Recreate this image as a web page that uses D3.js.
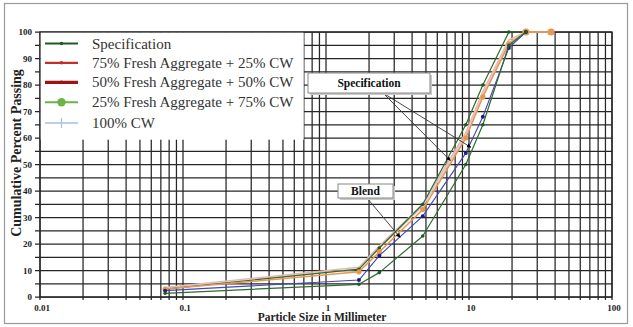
<!DOCTYPE html>
<html>
<head>
<meta charset="utf-8">
<script src="https://cdn.jsdelivr.net/npm/d3@7"></script>
<style>
  html, body { margin: 0; padding: 0; background: #fff; }
  svg { display: block; }
</style>
</head>
<body>
<div id="chart"></div>
<script>
// sieve sizes (mm) and cumulative % passing
const sizes      = [0.075, 1.7, 2.36, 4.75, 9.5, 12.5, 19, 25, 37.5];
const specLower  = [1.4, 4.8, 9.2, 23, 50, 65, 95, 100];
const specUpper  = [3, 10.5, 18.5, 35, 65, 80, 100, 100];
const blendBlue  = [2.4, 6.4, 15.6, 30.5, 54.3, 68, 94, 100];
const blendOrng  = [3, 9.5, 17, 33, 60, 75.5, 95.5, 100, 100];
const blendPink  = [3.6, 11.2, 19.2, 35, 62, 77.5, 97, 100, 100];
const blendGrey  = [3.3, 10.6, 18.4, 34.3, 61, 76.5, 96, 100];

const yTicks  = d3.range(0, 101, 10);
const xLabels = [0.01, 0.1, 1, 10, 100];
const legendLabels = [
  'Specification',
  '75% Fresh Aggregate + 25% CW',
  '50% Fresh Aggregate + 50% CW',
  '25% Fresh Aggregate + 75% CW',
  '100% CW',
];

const W = 633, H = 327, M = { top: 32, right: 21, bottom: 30, left: 40 };
const iW = W - M.left - M.right;
const iH = H - M.top - M.bottom;
const SERIF = '"Liberation Serif", "DejaVu Serif", serif';

const svg = d3.select('#chart').append('svg')
  .attr('width', W).attr('height', H);

// outer frame
svg.append('rect').attr('x', 4.5).attr('y', 3.5).attr('width', 623).attr('height', 320)
  .attr('fill', 'none').attr('stroke', '#9a9a9a').attr('stroke-width', 1.2);

const g = svg.append('g').attr('transform', `translate(${M.left},${M.top})`);

const x = d3.scaleLog().domain([0.01, 100]).range([0, iW]);
const y = d3.scaleLinear().domain([0, 100]).range([iH, 0]);

// ── grid ────────────────────────────────────────────────────────────────
const vTicks = [];
[0.01, 0.1, 1, 10].forEach(d => d3.range(1, 10).forEach(k => vTicks.push(d * k)));
vTicks.push(100);

const gridG = g.append('g').attr('stroke', '#262626').attr('stroke-width', 1.25);
vTicks.forEach(v => {
  gridG.append('line').attr('x1', x(v)).attr('x2', x(v)).attr('y1', 0).attr('y2', iH + 3);
});
d3.range(0, 101, 5).forEach(v => {
  gridG.append('line').attr('x1', -5).attr('x2', iW).attr('y1', y(v)).attr('y2', y(v));
});
g.append('rect').attr('width', iW).attr('height', iH)
  .attr('fill', 'none').attr('stroke', '#262626').attr('stroke-width', 1.3);

// ── axes labels ────────────────────────────────────────────────────────
g.append('g').selectAll('text').data(yTicks).join('text')
  .attr('x', -8).attr('y', d => y(d) + 3)
  .attr('text-anchor', 'end')
  .attr('font-family', SERIF).attr('font-weight', 'bold').attr('font-size', 9)
  .attr('fill', '#222')
  .text(d => d);

g.append('g').selectAll('text').data(xLabels).join('text')
  .attr('x', d => x(d) + 2).attr('y', iH + 14)
  .attr('text-anchor', 'middle')
  .attr('font-family', SERIF).attr('font-weight', 'bold').attr('font-size', 9)
  .attr('fill', '#222')
  .text(d => d);

svg.append('text')
  .attr('transform', `translate(21,153) rotate(-90)`)
  .attr('text-anchor', 'middle')
  .attr('font-family', SERIF).attr('font-weight', 'bold').attr('font-size', 14)
  .attr('fill', '#222')
  .text('Cumulative Percent Passing');

svg.append('text')
  .attr('x', 322).attr('y', 321)
  .attr('text-anchor', 'middle')
  .attr('font-family', SERIF).attr('font-weight', 'bold').attr('font-size', 11.5)
  .attr('fill', '#222')
  .text('Particle Size in Millimeter');

// ── series ─────────────────────────────────────────────────────────────
const series = [
  { vals: blendPink, color: '#efb4a8', width: 1.5, dot: null },
  { vals: blendGrey, color: '#d3cedb', width: 1.5, dot: null },
  { vals: specUpper, color: '#2e6b2e', width: 1.2, dot: '#1f5a22', r: 1.8 },
  { vals: blendOrng, color: '#e9964f', width: 1.5, dot: '#e9964f', r: 2.6 },
  { vals: blendBlue, color: '#4646b8', width: 1.1, dot: '#1b1b8a', r: 2 },
  { vals: specLower, color: '#2e6b2e', width: 1.2, dot: '#1f5a22', r: 1.8 },
];

const line = d3.line().x(d => x(d[0])).y(d => y(d[1]));

series.forEach(s => {
  const pts = s.vals.map((v, i) => [sizes[i], v]);
  g.append('path').attr('d', line(pts))
    .attr('fill', 'none').attr('stroke', s.color).attr('stroke-width', s.width)
    .attr('stroke-linejoin', 'round');
  if (s.dot) {
    g.append('g').selectAll('circle').data(pts).join('circle')
      .attr('cx', d => x(d[0])).attr('cy', d => y(d[1]))
      .attr('r', (d, i) => (s.vals === blendOrng && i >= 7) ? 3.6 : s.r)
      .attr('fill', s.dot);
  }
});

// ── annotations ─────────────────────────────────────────────────────────
svg.append('defs').append('marker')
  .attr('id', 'arr').attr('viewBox', '0 0 10 10')
  .attr('refX', 9).attr('refY', 5)
  .attr('markerWidth', 5).attr('markerHeight', 5)
  .attr('orient', 'auto')
  .append('path').attr('d', 'M0,0L10,5L0,10z').attr('fill', '#000');

function callout(bx, by, bw, bh, label, targets, from) {
  targets.forEach(t => {
    svg.append('line')
      .attr('x1', from[0]).attr('y1', from[1])
      .attr('x2', x(t[0]) + M.left).attr('y2', y(t[1]) + M.top)
      .attr('stroke', '#333').attr('stroke-width', 0.9)
      .attr('marker-end', 'url(#arr)');
  });
  svg.append('rect').attr('x', bx + 2).attr('y', by + 2).attr('width', bw).attr('height', bh)
    .attr('fill', '#c8c8c8');
  svg.append('rect').attr('x', bx).attr('y', by).attr('width', bw).attr('height', bh)
    .attr('fill', '#fff').attr('stroke', '#888').attr('stroke-width', 1);
  svg.append('text')
    .attr('x', bx + bw / 2).attr('y', by + bh / 2 + 4)
    .attr('text-anchor', 'middle')
    .attr('font-family', SERIF).attr('font-weight', 'bold').attr('font-size', 11.5)
    .attr('fill', '#111')
    .text(label);
}

// pointers aim at spots on the envelope (size mm, % passing)
const specTargets  = [[7.4, 51.5], [10.3, 56.5]];
const blendTargets = [[3.3, 22.5]];
callout(308, 73, 122, 20, 'Specification', specTargets, [383, 93]);
callout(338, 184, 55, 14, 'Blend', blendTargets, [367, 198]);

// ── legend ─────────────────────────────────────────────────────────────
const lg = svg.append('g');
lg.append('rect').attr('x', M.left + 0.7).attr('y', M.top + 0.7)
  .attr('width', 263).attr('height', 107).attr('fill', '#fff');

const legendStyle = [
  { color: '#1f5a22', width: 2.2, mark: 'dot', r: 1.8 },
  { color: '#c0302a', width: 2.2, mark: 'dot', r: 1.8 },
  { color: '#9c1414', width: 3.2, mark: 'dot', r: 1.8 },
  { color: '#6cb347', width: 2, mark: 'dot', r: 4.2 },
  { color: '#a2c0e6', width: 1.6, mark: 'plus', r: 5 },
];
const rowY = [43.5, 62.8, 82.3, 102.3, 123];

legendLabels.forEach((lab, i) => {
  const st = legendStyle[i];
  const ly = rowY[i];
  lg.append('line').attr('x1', 45).attr('x2', 78).attr('y1', ly).attr('y2', ly)
    .attr('stroke', st.color).attr('stroke-width', st.width);
  if (st.mark === 'dot') {
    lg.append('circle').attr('cx', 61.5).attr('cy', ly).attr('r', st.r).attr('fill', st.color);
  } else {
    lg.append('line').attr('x1', 61.5).attr('x2', 61.5).attr('y1', ly - st.r).attr('y2', ly + st.r)
      .attr('stroke', st.color).attr('stroke-width', 1.2);
  }
  lg.append('text').attr('x', 92).attr('y', ly + 5)
    .attr('font-family', SERIF).attr('font-size', 15)
    .attr('fill', '#333')
    .text(lab);
});
</script>
</body>
</html>
